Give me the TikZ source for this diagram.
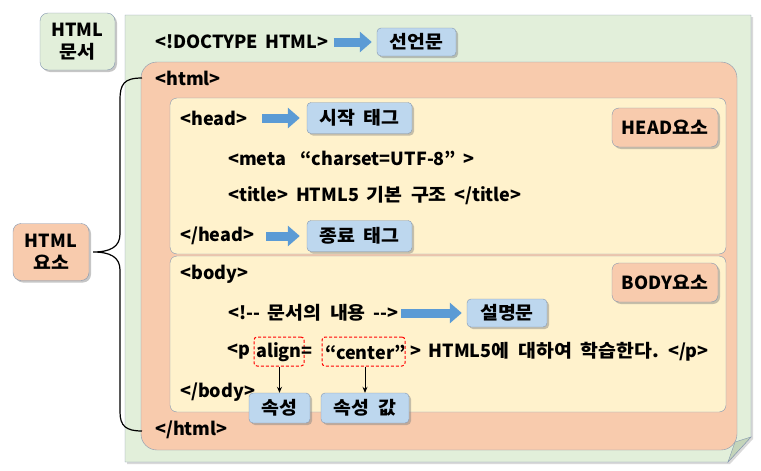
\documentclass[tikz,border=0pt]{standalone}
\usepackage{fontspec}
\newfontfamily\krfont{Noto Sans CJK KR}[WordSpace=1.8]
\newfontfamily\hgfont{Noto Sans CJK KR}[WordSpace=2,FakeStretch=1.08]
\newcommand\hg[1]{{\hgfont #1}}
\usetikzlibrary{arrows.meta,shadows}
\definecolor{docgreen}{RGB}{226,239,218}
\definecolor{foldgreen}{RGB}{196,212,186}
\definecolor{htmlorange}{RGB}{248,203,173}
\definecolor{headyellow}{RGB}{255,242,204}
\definecolor{tagblue}{RGB}{189,215,238}
\definecolor{arrowblue}{RGB}{91,155,213}
\definecolor{boxline}{RGB}{132,151,176}
\begin{document}
\begin{tikzpicture}[x=1pt,y=-1pt,
  txt/.style={anchor=west,inner sep=0pt,font=\krfont\bfseries\fontsize{18}{20}\selectfont},
  tagbox/.style={draw=boxline,fill=tagblue,rounded corners=4pt,inner sep=0pt,
    drop shadow={shadow xshift=2pt,shadow yshift=-2pt,opacity=.45},
    font=\krfont\bfseries\fontsize{18}{20}\selectfont},
  elembox/.style={tagbox,fill=htmlorange,rounded corners=7pt},
  sidebox/.style={tagbox,rounded corners=8pt,align=center,font=\krfont\bfseries\fontsize{18}{22}\selectfont},
  attrbox/.style={draw=red,line width=1pt,dash pattern=on 3pt off 2pt,rounded corners=3pt,
    inner sep=0pt,minimum height=29pt},
  bigarrow/.style={line width=9pt,draw=arrowblue,-{Triangle[width=20pt,length=12pt]}},
  pointer/.style={thick,-{Stealth[length=6pt,width=5pt]}}]
\useasboundingbox (0,0) rectangle (761,471);
% document page with folded corner
\draw[fill=docgreen,draw=boxline,drop shadow={shadow xshift=2pt,shadow yshift=-2pt,opacity=.3}]
  (125,15) -- (751,15) -- (751,437) -- (728,462) -- (125,462) -- cycle;
\draw[fill=foldgreen,draw=boxline] (751,437) -- (735,442) -- (728,462) -- cycle;
% html, head and body blocks
\draw[fill=htmlorange,draw=boxline,rounded corners=16pt] (141,62) rectangle (737,450);
\draw[fill=headyellow,draw=boxline,rounded corners=7pt] (170,98) rectangle (726,254);
\draw[fill=headyellow,draw=boxline,rounded corners=7pt] (170,256) rectangle (726,412);
% side labels
\node[sidebox,fill=docgreen,minimum width=75pt,minimum height=57pt] (doc) at (77.5,41.5) {HTML\\\hg{문서}};
\node[sidebox,fill=htmlorange,minimum width=76pt,minimum height=57pt] (elem) at (51,252) {HTML\\\hg{요소}};
% code lines
\node[txt] (doctype) at (155,42) {<!DOCTYPE HTML>};
\node[txt] (htmlopen) at (155,78) {<html>};
\node[txt] (headopen) at (180,118) {<head>};
\node[txt] (meta) at (228,158) {<meta~ “charset=UTF-8” >};
\node[txt] (title) at (228,196) {<title> HTML5 \hg{기본 구조} </title>};
\node[txt] (headclose) at (180,236) {</head>};
\node[txt] (bodyopen) at (180,274) {<body>};
\node[txt] (comment) at (228,313) {<!-{}- \hg{문서의 내용} -{}->};
\node[txt] (popen) at (227,352) {<p};
\node[attrbox,minimum width=50pt] (al) at (279,351.5) {};
\node[txt] (align) at (256,352) {align=};
\node[attrbox,minimum width=83pt] (val) at (363.5,351.5) {};
\node[txt] (center) at (325,352) {“center”};
\node[txt] (prest) at (410,352) {> HTML5\hg{에 대하여 학습한다.} </p>};
\node[txt] (bodyclose) at (180,392) {</body>};
\node[txt] (htmlclose) at (155,430) {</html>};
% labels
\node[tagbox,minimum width=79pt,minimum height=28pt] (decl) at (416.5,42) {\hg{선언문}};
\node[tagbox,minimum width=105pt,minimum height=31pt] (start) at (359.5,118) {\hg{시작 태그}};
\node[tagbox,minimum width=105pt,minimum height=31pt] (stop) at (359.5,236) {\hg{종료 태그}};
\node[tagbox,minimum width=80pt,minimum height=28pt] (note) at (507,313) {\hg{설명문}};
\node[tagbox,minimum width=61pt,minimum height=30pt] (attr) at (279.5,408) {\hg{속성}};
\node[tagbox,minimum width=88pt,minimum height=30pt] (attrval) at (365,408) {\hg{속성 값}};
\node[elembox,minimum width=106pt,minimum height=39pt] (headel) at (665,127.5) {HEAD\hg{요소}};
\node[elembox,minimum width=106pt,minimum height=39pt] (bodyel) at (665,282.5) {BODY\hg{요소}};
% arrows
\draw[bigarrow] ([xshift=5pt]doctype.east) -- ([xshift=-5pt]decl.west);
\draw[bigarrow] ([xshift=15pt]headopen.east) -- ([xshift=-7pt]start.west);
\draw[bigarrow] ([xshift=12pt]headclose.east) -- ([xshift=-7pt]stop.west);
\draw[bigarrow] ([xshift=3pt]comment.east) -- ([xshift=-5pt]note.west);
\draw[pointer] (al.south -| attr) -- (attr.north);
\draw[pointer] (val.south -| attrval) -- (attrval.north);
% brace
\coordinate (bt) at (142,78);
\coordinate (bb) at (142,431);
\coordinate (tip) at ([xshift=4pt]elem.east);
\draw[line width=1.2pt] (bt) .. controls (124,78) and (120,84) .. (120,100) -- (120,234)
  .. controls (120,247) and (110,252) .. (tip)
  .. controls (110,252) and (120,257) .. (120,270) -- (120,412)
  .. controls (120,426) and (126,431) .. (bb);
\end{tikzpicture}
\end{document}
